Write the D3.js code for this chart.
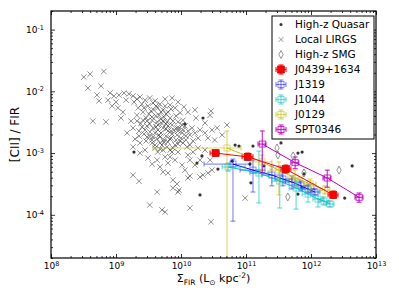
<!DOCTYPE html>
<html>
<head>
<meta charset="utf-8">
<script src="https://cdn.jsdelivr.net/npm/d3@7"></script>
<style>
body { margin: 0; background: #fff; }
svg text { font-family: "DejaVu Sans", sans-serif; fill: #000; }
</style>
</head>
<body>
<div id="chart"></div>
<script>
// Local LIRGs (crosses)
var lirgSigma = [3.2e8, 4.0e8, 6.5e8, 3.7e8, 5.9e8, 5.1e8, 5.5e8, 8.1e8, 9.3e8, 7.5e8,
    1.11e9, 1.33e9, 1.58e9, 4.4e8, 7.0e8, 1.07e9, 1.19e9, 1.7e9, 1.9e9, 1.0e9,
    1.43e9, 8.7e8, 1.28e9, 1.83e9, 2.1e9, 2.34e9, 2.8e9, 3.3e9, 4.0e9, 4.75e9,
    5.7e9, 6.8e9, 8.1e9, 2.5e9, 3.1e9, 3.7e9, 4.4e9, 5.3e9, 6.3e9, 2.2e9,
    2.6e9, 3.2e9, 3.8e9, 4.6e9, 5.5e9, 6.8e9, 8.4e9, 9.7e9, 2.9e9, 3.6e9,
    4.3e9, 5.1e9, 6.1e9, 7.3e9, 9.0e9, 1.07e10, 2.4e9, 3.0e9, 3.7e9, 4.4e9,
    5.3e9, 6.3e9, 7.8e9, 9.3e9, 1.15e10, 2.1e9, 1.83e9, 2.26e9, 2.7e9, 3.3e9,
    4.0e9, 4.75e9, 5.9e9, 7.0e9, 8.7e9, 1.04e10, 1.28e10, 1.48e10, 1.48e9, 1.96e9,
    2.34e9, 1.83e9, 2.9e9, 3.6e9, 4.3e9, 5.1e9, 6.3e9, 7.5e9, 9.0e9, 1.07e10,
    1.24e10, 1.53e10, 1.83e10, 4.0e9, 5.3e9, 1.53e10, 1.83e10, 1.28e10, 3.7e9, 4.75e9,
    4.4e9, 5.7e9, 4.3e9, 6.3e9, 4.75e9, 5.3e9, 7.5e9, 8.7e9, 9.3e9, 1.28e10,
    1.96e10, 2.6e10, 3.0e10, 4.3e9, 3.3e9, 5.1e9, 5.7e9, 1.37e10, 2.9e10, 9.7e10,
    1.83e9, 2.26e9, 9.0e9, 7.5e9, 6.3e9, 1.37e10, 2.18e10, 2.8e10, 5.1e10, 3.6e10,
    2.34e10, 2.9e10, 2.34e10, 3.0e10, 2.6e10, 3.1e9, 3.6e9, 6.8e9, 8.1e9, 1.04e10,
    1.15e10, 1.64e10, 1.96e10, 1.37e10, 9.0e9, 6.8e9, 2.8e9, 2.34e9, 1.7e10, 1.28e10,
    1.11e10, 9.0e9, 5.7e9, 7.3e9, 1.64e10, 1.96e10, 3.3e10, 4.3e10, 2.34e10, 2.8e10,
    4.1e9, 4.9e9, 5.9e9, 3.3e9, 2.6e9, 7.0e9, 8.4e9, 1.0e10, 1.19e10, 5.5e9,
    2.7e9, 3.45e9, 4.12e9, 4.92e9, 5.88e9, 7.02e9, 3.0e9, 3.58e9, 4.43e9, 5.28e9,
    6.31e9, 7.53e9, 8.67e9, 1.04e10, 2.79e9, 3.33e9, 4.12e9, 4.92e9, 5.88e9, 7.27e9,
    8.99e9, 1.07e10, 3.0e9, 3.58e9, 4.59e9, 5.47e9, 6.77e9, 8.09e9, 9.66e9, 1.19e10,
    1.37e10, 3.98e9, 4.75e9, 6.09e9, 7.27e9, 2.51e9, 2.1e9, 2.26e9, 1.37e10, 1.64e10];
var lirgRatio = [1.7e-2, 1.9e-2, 2.1e-2, 1.13e-2, 1.22e-2, 8.7e-3, 7.0e-3, 9.4e-3, 8.4e-3, 7.2e-3,
    8.7e-3, 9.4e-3, 9.1e-3, 3.3e-3, 3.2e-3, 5.4e-3, 3.7e-3, 3.3e-3, 6.7e-3, 6.7e-3,
    7.2e-3, 5.8e-3, 4.6e-3, 8.4e-3, 7.5e-3, 8.1e-3, 7.2e-3, 7.8e-3, 7.0e-3, 6.2e-3,
    5.8e-3, 6.0e-3, 5.4e-3, 6.2e-3, 5.8e-3, 6.5e-3, 5.4e-3, 5.0e-3, 4.6e-3, 5.4e-3,
    4.6e-3, 4.3e-3, 5.0e-3, 4.1e-3, 3.8e-3, 3.7e-3, 4.0e-3, 4.5e-3, 3.7e-3, 3.4e-3,
    3.2e-3, 3.0e-3, 3.2e-3, 2.85e-3, 3.2e-3, 3.4e-3, 3.0e-3, 2.75e-3, 2.55e-3, 2.37e-3,
    2.55e-3, 2.28e-3, 2.37e-3, 2.55e-3, 2.75e-3, 4.1e-3, 2.55e-3, 2.28e-3, 2.04e-3, 1.89e-3,
    2.12e-3, 1.82e-3, 1.89e-3, 1.75e-3, 1.96e-3, 2.12e-3, 2.28e-3, 2.55e-3, 2.12e-3, 1.69e-3,
    1.46e-3, 1.26e-3, 1.57e-3, 1.46e-3, 1.69e-3, 1.35e-3, 1.51e-3, 1.21e-3, 1.40e-3, 1.46e-3,
    1.26e-3, 1.57e-3, 1.75e-3, 1.21e-3, 1.12e-3, 1.04e-3, 1.21e-3, 9.3e-4, 1.82e-3, 1.46e-3,
    1.04e-3, 8.65e-4, 7.7e-4, 6.9e-4, 5.96e-4, 4.94e-4, 3.66e-4, 3.16e-4, 2.52e-4, 3.95e-4,
    4.1e-4, 4.76e-4, 5.3e-4, 2.34e-4, 1.44e-4, 1.20e-4, 1.11e-4, 1.29e-4, 7.7e-5, 1.87e-4,
    4.4e-4, 3.5e-4, 2.34e-4, 2.72e-4, 4.76e-4, 4.26e-4, 4.4e-4, 4.1e-3, 2.85e-3, 2.55e-3,
    2.12e-3, 4.8e-3, 3.07e-3, 2.37e-3, 1.75e-3, 8.3e-4, 6.65e-4, 8.65e-4, 7.7e-4, 6.4e-4,
    5.3e-4, 6.4e-4, 7.7e-4, 7.7e-4, 1.04e-3, 1.12e-3, 1.12e-3, 1.0e-3, 3.7e-3, 4.6e-3,
    5.6e-3, 6.7e-3, 7.5e-3, 7.8e-3, 5.0e-3, 2.37e-3, 1.63e-3, 1.96e-3, 1.12e-3, 7.7e-4,
    4.0e-3, 3.56e-3, 2.96e-3, 2.96e-3, 3.4e-3, 2.28e-3, 1.63e-3, 1.75e-3, 1.89e-3, 1.63e-3,
    5.37e-3, 4.81e-3, 5.79e-3, 4.63e-3, 4.30e-3, 5.17e-3, 3.31e-3, 3.84e-3, 2.85e-3, 3.31e-3,
    2.75e-3, 3.31e-3, 2.55e-3, 2.85e-3, 2.37e-3, 2.2e-3, 2.65e-3, 2.12e-3, 2.46e-3, 2.04e-3,
    2.28e-3, 2.37e-3, 1.82e-3, 1.63e-3, 1.96e-3, 1.51e-3, 1.69e-3, 1.35e-3, 1.57e-3, 1.63e-3,
    1.96e-3, 1.35e-3, 1.17e-3, 1.26e-3, 1.04e-3, 2.65e-3, 3.31e-3, 1.89e-3, 1.35e-3, 2.12e-3];

// High-z quasars (dots)
var qsoSigma = [1.89e9, 1.15e10, 2.18e10, 2.1e10, 1.76e10, 1.96e10, 3.7e10, 6.1e10, 6.8e10, 7.8e10,
    1.15e11, 1.19e11, 1.28e11, 1.89e11, 3.45e11, 6.3e11, 7.3e11, 7.8e11, 6.3e11, 7.3e11,
    3.3e12, 4.3e12];
var qsoRatio = [1.04e-3, 2.96e-3, 3.7e-3, 9.0e-4, 6.9e-4, 2.1e-4, 5.5e-4, 7.4e-4, 1.35e-3, 1.30e-3,
    6.65e-4, 3.3e-4, 1.30e-3, 6.2e-4, 1.46e-3, 1.0e-3, 1.04e-3, 4.6e-4, 2.17e-4, 2.8e-4,
    1.87e-4, 6.2e-4];

// High-z SMGs (diamonds)
var smgSigma = [3.0e11, 3.1e11, 5.3e11, 7.8e11, 2.7e12, 4.4e11];
var smgRatio = [1.21e-3, 9.3e-4, 9.0e-4, 4.76e-4, 5.3e-4, 1.95e-4];

// resolved sources, with error ranges
var j0439Sigma = [3.4e10, 1.06e11, 4.1e11, 2.2e12];
var j0439SigmaLo = [2.8e10, 8.7e10, 3.45e11, 1.83e12];
var j0439SigmaHi = [3.84e10, 1.28e11, 4.9e11, 2.6e12];
var j0439Ratio = [1.0e-3, 8.7e-4, 5.5e-4, 2.1e-4];
var j0439RatioLo = [9.0e-4, 7.7e-4, 4.76e-4, 1.87e-4];
var j0439RatioHi = [1.12e-3, 1.0e-3, 6.4e-4, 2.43e-4];

var j1319Sigma = [6.3e10, 1.28e11, 2.5e11, 3.7e11, 5.1e11, 7.0e11, 9.0e11, 1.15e12];
var j1319SigmaLo = [2.26e10, 8.1e10, 1.76e11, 2.8e11, 4.0e11, 5.5e11, 7.3e11, 9.7e11];
var j1319SigmaHi = [1.15e11, 1.96e11, 3.6e11, 5.1e11, 6.8e11, 9.0e11, 1.11e12, 1.37e12];
var j1319Ratio = [6.65e-4, 5.3e-4, 4.4e-4, 3.8e-4, 3.4e-4, 2.95e-4, 2.62e-4, 2.34e-4];
var j1319RatioLo = [7.9e-5, 2.34e-4, 2.95e-4, 2.95e-4, 2.62e-4, 2.43e-4, 2.26e-4, 2.1e-4];
var j1319RatioHi = [8.0e-4, 7.7e-4, 6.2e-4, 4.94e-4, 4.26e-4, 3.53e-4, 3.05e-4, 2.62e-4];

var j1044Sigma = [5.3e10, 1.58e11, 3.3e11, 5.9e11, 9.0e11, 1.28e12, 1.58e12, 1.96e12];
var j1044SigmaLo = [4.3e10, 1.15e11, 2.5e11, 4.6e11, 7.3e11, 1.07e12, 1.33e12, 1.7e12];
var j1044SigmaHi = [9.7e10, 2.18e11, 4.4e11, 7.5e11, 1.11e12, 1.53e12, 1.89e12, 2.26e12];
var j1044Ratio = [5.96e-4, 4.76e-4, 3.53e-4, 2.72e-4, 2.17e-4, 1.8e-4, 1.67e-4, 1.5e-4];
var j1044RatioLo = [5.1e-4, 1.56e-4, 1.29e-4, 1.24e-4, 1.61e-4, 1.34e-4, 1.44e-4, 1.34e-4];
var j1044RatioHi = [6.9e-4, 1.08e-3, 6.2e-4, 3.66e-4, 2.95e-4, 2.43e-4, 1.95e-4, 1.67e-4];

var j0129Sigma = [5.1e10, 1.76e11, 3.2e11, 5.7e11, 9.7e11, 1.64e12];
var j0129SigmaLo = [3.7e9, 1.24e11, 2.34e11, 4.4e11, 7.8e11, 1.37e12];
var j0129SigmaHi = [8.4e10, 2.5e11, 4.4e11, 7.3e11, 1.19e12, 1.96e12];
var j0129Ratio = [1.21e-3, 7.2e-4, 5.3e-4, 3.95e-4, 3.16e-4, 2.52e-4];
var j0129RatioLo = [1e-6, 5.3e-4, 2.1e-4, 2.95e-4, 2.52e-4, 2.17e-4];
var j0129RatioHi = [2.28e-3, 9.3e-4, 7.2e-4, 5.3e-4, 3.8e-4, 2.95e-4];

var spt0346Sigma = [1.78e11, 5.7e11, 1.78e12, 5.5e12];
var spt0346SigmaLo = [1.53e11, 4.9e11, 1.53e12, 4.75e12];
var spt0346SigmaHi = [2.03e11, 6.5e11, 2.03e12, 6.3e12];
var spt0346Ratio = [1.40e-3, 7.0e-4, 3.95e-4, 1.92e-4];
var spt0346RatioLo = [4.8e-4, 5.6e-4, 2.8e-4, 1.6e-4];
var spt0346RatioHi = [2.28e-3, 8.65e-4, 5.3e-4, 2.26e-4];

var xTicks = [1e8, 1e9, 1e10, 1e11, 1e12, 1e13];
var yTicks = [1e-4, 1e-3, 1e-2, 1e-1];

var series = [
    { name: "J1319", color: "#0000ff", alpha: 0.45, fill: false, sigma: j1319Sigma, sigmaLo: j1319SigmaLo, sigmaHi: j1319SigmaHi, ratio: j1319Ratio, ratioLo: j1319RatioLo, ratioHi: j1319RatioHi },
    { name: "J1044", color: "#00bfbf", alpha: 0.55, fill: false, sigma: j1044Sigma, sigmaLo: j1044SigmaLo, sigmaHi: j1044SigmaHi, ratio: j1044Ratio, ratioLo: j1044RatioLo, ratioHi: j1044RatioHi },
    { name: "J0129", color: "#bfbf00", alpha: 0.55, fill: false, sigma: j0129Sigma, sigmaLo: j0129SigmaLo, sigmaHi: j0129SigmaHi, ratio: j0129Ratio, ratioLo: j0129RatioLo, ratioHi: j0129RatioHi },
    { name: "J0439+1634", color: "#ff0000", alpha: 0.9, fill: true, sigma: j0439Sigma, sigmaLo: j0439SigmaLo, sigmaHi: j0439SigmaHi, ratio: j0439Ratio, ratioLo: j0439RatioLo, ratioHi: j0439RatioHi },
    { name: "SPT0346", color: "#bf00bf", alpha: 0.8, fill: false, sigma: spt0346Sigma, sigmaLo: spt0346SigmaLo, sigmaHi: spt0346SigmaHi, ratio: spt0346Ratio, ratioLo: spt0346RatioLo, ratioHi: spt0346RatioHi }
];
var legendOrder = ["J0439+1634", "J1319", "J1044", "J0129", "SPT0346"];

var width = 399, height = 307;
var margin = { top: 11, right: 23, bottom: 49, left: 51 };
var w = width - margin.left - margin.right;
var h = height - margin.top - margin.bottom;

var svg = d3.select("#chart").append("svg")
    .attr("width", width)
    .attr("height", height);
svg.append("rect").attr("width", width).attr("height", height).attr("fill", "#fff");

var plot = svg.append("g")
    .attr("transform", "translate(" + margin.left + "," + margin.top + ")");

var x = d3.scaleLog().domain([1e8, 1e13]).range([0, w]);
var y = d3.scaleLog().domain([2e-5, 0.2]).range([h, 0]);

plot.append("clipPath").attr("id", "clip")
    .append("rect").attr("width", w).attr("height", h);

var crossPath = "M-2.7,-2.7L2.7,2.7M-2.7,2.7L2.7,-2.7";
var diamondPath = "M0,-4L2.2,0L0,4L-2.2,0Z";

// LIRGs
plot.append("g").attr("clip-path", "url(#clip)")
    .selectAll("path")
    .data(lirgSigma)
    .enter()
    .append("path")
    .attr("d", crossPath)
    .attr("transform", function (d, i) { return "translate(" + x(d) + "," + y(lirgRatio[i]) + ")"; })
    .attr("fill", "none")
    .attr("stroke", "#222")
    .attr("stroke-opacity", 0.6)
    .attr("stroke-width", 0.85);

// quasars
plot.append("g").selectAll("circle")
    .data(qsoSigma)
    .enter()
    .append("circle")
    .attr("cx", function (d) { return x(d); })
    .attr("cy", function (d, i) { return y(qsoRatio[i]); })
    .attr("r", 1.6)
    .attr("fill", "#333");

// SMGs
plot.append("g").selectAll("path")
    .data(smgSigma)
    .enter()
    .append("path")
    .attr("d", diamondPath)
    .attr("transform", function (d, i) { return "translate(" + x(d) + "," + y(smgRatio[i]) + ")"; })
    .attr("fill", "none")
    .attr("stroke", "#777")
    .attr("stroke-width", 0.8);

// error bar glyph used by both plot and legend
function errGlyph(g, cx, cy, x0, x1, y0, y1, color, alpha) {
    var e = g.append("g").attr("stroke", color).attr("stroke-opacity", alpha).attr("stroke-width", 1.2).attr("fill", "none");
    e.append("line").attr("x1", x0).attr("x2", x1).attr("y1", cy).attr("y2", cy);
    e.append("line").attr("x1", x0).attr("x2", x0).attr("y1", cy - 2.5).attr("y2", cy + 2.5);
    e.append("line").attr("x1", x1).attr("x2", x1).attr("y1", cy - 2.5).attr("y2", cy + 2.5);
    e.append("line").attr("x1", cx).attr("x2", cx).attr("y1", y0).attr("y2", y1);
    e.append("line").attr("x1", cx - 2.5).attr("x2", cx + 2.5).attr("y1", y0).attr("y2", y0);
    e.append("line").attr("x1", cx - 2.5).attr("x2", cx + 2.5).attr("y1", y1).attr("y2", y1);
}

function squareMarker(g, cx, cy, s) {
    var size = s.fill ? 7 : 6;
    g.append("rect")
        .attr("x", cx - size / 2).attr("y", cy - size / 2)
        .attr("width", size).attr("height", size)
        .attr("fill", s.fill ? s.color : "none")
        .attr("stroke", s.fill ? "#b00" : s.color)
        .attr("stroke-opacity", s.fill ? 1 : s.alpha)
        .attr("stroke-width", s.fill ? 0.6 : 1);
}

var line = d3.line()
    .x(function (d) { return x(d[0]); })
    .y(function (d) { return y(d[1]); });

series.forEach(function (s) {
    var g = plot.append("g").attr("clip-path", "url(#clip)");
    var pts = s.sigma.map(function (v, i) { return [v, s.ratio[i]]; });
    s.sigma.forEach(function (v, i) {
        errGlyph(g, x(v), y(s.ratio[i]), x(s.sigmaLo[i]), x(s.sigmaHi[i]),
            y(s.ratioLo[i]), y(s.ratioHi[i]), s.color, s.alpha);
    });
    g.append("path").datum(pts)
        .attr("d", line)
        .attr("fill", "none")
        .attr("stroke", s.color)
        .attr("stroke-width", 1);
    s.sigma.forEach(function (v, i) {
        squareMarker(g, x(v), y(s.ratio[i]), s);
    });
});

// axes: ticks inside on all four sides
function minorTicks(lo, hi) {
    var out = [];
    for (var e = lo; e <= hi; e++) {
        for (var m = 2; m <= 9; m++) out.push(m * Math.pow(10, e));
    }
    return out;
}
var xMinor = minorTicks(8, 12);
var yMinor = minorTicks(-5, -1).filter(function (v) { return v >= 2e-5 && v <= 0.2; });

function powerLabel(sel) {
    sel.selectAll(".tick text").each(function (d) {
        var t = d3.select(this);
        var e = Math.round(Math.log10(d));
        t.text("10");
        t.append("tspan").attr("dy", "-0.5em").attr("font-size", "6.5px").text(e < 0 ? "-" + (-e) : e);
    });
}

function styleAxis(sel) {
    sel.select(".domain").remove();
    sel.selectAll(".tick line").attr("stroke", "#000").attr("stroke-width", 0.8);
    sel.selectAll(".tick text").attr("font-size", "9px").attr("font-family", "DejaVu Sans, sans-serif");
}

plot.append("g").attr("transform", "translate(0," + h + ")")
    .call(d3.axisBottom(x).tickValues(xTicks).tickSizeInner(-4).tickSizeOuter(0).tickPadding(5))
    .call(styleAxis).call(powerLabel);
plot.append("g").attr("transform", "translate(0," + h + ")")
    .call(d3.axisBottom(x).tickValues(xMinor).tickSizeInner(-2).tickSizeOuter(0).tickFormat(""))
    .call(styleAxis);
plot.append("g")
    .call(d3.axisTop(x).tickValues(xTicks).tickSizeInner(-4).tickSizeOuter(0).tickFormat(""))
    .call(styleAxis);
plot.append("g")
    .call(d3.axisTop(x).tickValues(xMinor).tickSizeInner(-2).tickSizeOuter(0).tickFormat(""))
    .call(styleAxis);

plot.append("g")
    .call(d3.axisLeft(y).tickValues(yTicks).tickSizeInner(-4).tickSizeOuter(0).tickPadding(7))
    .call(styleAxis).call(powerLabel);
plot.append("g")
    .call(d3.axisLeft(y).tickValues(yMinor).tickSizeInner(-2).tickSizeOuter(0).tickFormat(""))
    .call(styleAxis);
plot.append("g").attr("transform", "translate(" + w + ",0)")
    .call(d3.axisRight(y).tickValues(yTicks).tickSizeInner(-4).tickSizeOuter(0).tickFormat(""))
    .call(styleAxis);
plot.append("g").attr("transform", "translate(" + w + ",0)")
    .call(d3.axisRight(y).tickValues(yMinor).tickSizeInner(-2).tickSizeOuter(0).tickFormat(""))
    .call(styleAxis);

// frame
plot.append("rect")
    .attr("width", w).attr("height", h)
    .attr("fill", "none")
    .attr("stroke", "#000")
    .attr("stroke-width", 1.2);

// axis titles
var xt = svg.append("text")
    .attr("x", margin.left + w / 2)
    .attr("y", 282)
    .attr("text-anchor", "middle")
    .attr("font-size", "11px");
xt.append("tspan").text("\u03A3");
xt.append("tspan").attr("dy", 2.5).attr("font-size", "7.5px").text("FIR");
xt.append("tspan").attr("dy", -2.5).text(" (L");
xt.append("tspan").attr("dy", 2.5).attr("font-size", "7.5px").text("\u2299");
xt.append("tspan").attr("dy", -2.5).text(" kpc");
xt.append("tspan").attr("dy", -4).attr("font-size", "7.5px").text("-2");
xt.append("tspan").attr("dy", 4).text(")");

svg.append("text")
    .attr("transform", "translate(19," + (margin.top + h / 2) + ") rotate(-90)")
    .attr("text-anchor", "middle")
    .attr("font-size", "12px")
    .text("[CII] / FIR");

// legend
var legend = svg.append("g").attr("transform", "translate(272,16)");
legend.append("rect")
    .attr("width", 102).attr("height", 123)
    .attr("fill", "#fff")
    .attr("stroke", "#000")
    .attr("stroke-width", 1);

var rowY = function (i) { return 8.5 + i * 15; };
var labels = ["High-z Quasar", "Local LIRGS", "High-z SMG"].concat(legendOrder);
labels.forEach(function (lab, i) {
    legend.append("text")
        .attr("x", 23).attr("y", rowY(i) + 3.8)
        .attr("font-size", "10.5px")
        .text(lab);
});
legend.append("circle").attr("cx", 9).attr("cy", rowY(0)).attr("r", 1.5).attr("fill", "#333");
legend.append("path").attr("d", "M-2.4,-2.4L2.4,2.4M-2.4,2.4L2.4,-2.4").attr("transform", "translate(9," + rowY(1) + ")")
    .attr("stroke", "#333").attr("stroke-opacity", 0.6).attr("stroke-width", 0.8);
legend.append("path").attr("d", diamondPath).attr("transform", "translate(9," + rowY(2) + ")")
    .attr("fill", "none").attr("stroke", "#777").attr("stroke-width", 0.8);
legendOrder.forEach(function (name, k) {
    var s = series.filter(function (d) { return d.name === name; })[0];
    var cy = rowY(3 + k);
    errGlyph(legend, 9, cy, 4, 14, cy - 4.5, cy + 4.5, s.color, s.alpha);
    squareMarker(legend, 9, cy, s);
});
</script>
</body>
</html>
